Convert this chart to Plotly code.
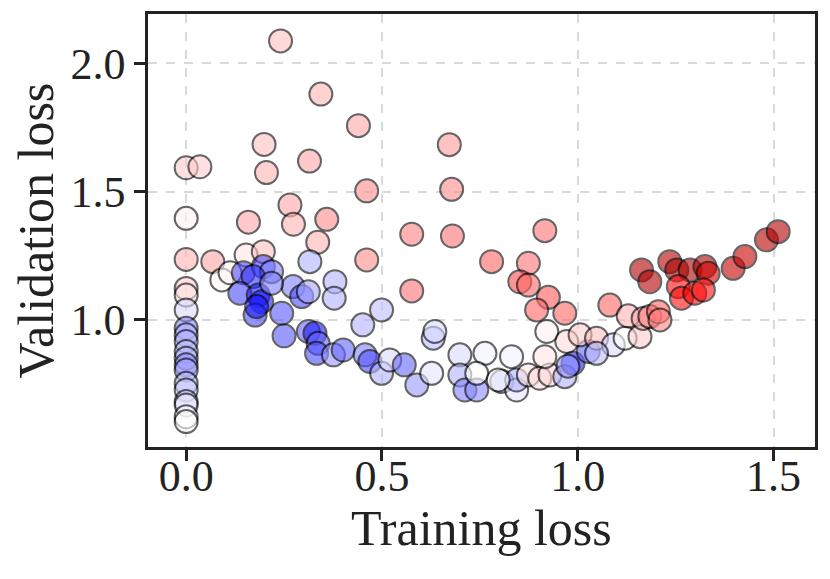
import plotly.graph_objects as go

# Training loss (x), validation loss (y), colour value (blue<0<red)
train_loss = [
    0.0, 0.0, 0.0, 0.0, 0.0, 0.0, 0.0, 0.0, 0.0, 0.0,
    0.0, 0.0, 0.0, 0.0, 0.0, 0.0, 0.0, 0.0, 0.0,
    0.241, 0.344, 0.440, 0.672, 0.199, 0.315, 0.035, 0.205, 0.461, 0.678,
    0.265, 0.159, 0.274, 0.359, 0.336, 0.576, 0.680, 0.068, 0.153, 0.197,
    0.461, 0.576, 0.916, 0.780, 0.874, 0.852, 0.874, 0.925, 0.895, 0.967,
    0.316, 0.091, 0.112, 0.146, 0.197, 0.218, 0.171, 0.137, 0.184, 0.193,
    0.176, 0.244, 0.273, 0.295, 0.312, 0.380, 0.378, 0.499, 0.451, 0.250,
    0.312, 0.329, 0.337, 0.333, 0.376, 0.401, 0.457, 0.469, 0.499, 0.520,
    0.557, 0.589, 0.627, 0.631, 0.635, 0.699, 0.699, 0.712, 0.742, 0.180,
    0.218,
    0.763, 0.831, 0.742, 0.806, 0.844, 0.844, 0.797, 0.874, 0.903, 0.929,
    0.967, 0.988, 1.027, 0.916, 0.921, 0.972, 1.006, 1.048, 1.091, 1.121,
    1.159, 1.048, 0.975,
    1.082, 1.129, 1.167, 1.184, 1.206, 1.210, 1.163, 1.184, 1.235, 1.253,
    1.287, 1.325, 1.333, 1.257, 1.265, 1.299, 1.321, 1.397, 1.427, 1.482,
    1.512,
]
val_loss = [
    1.593, 1.396, 1.236, 1.123, 1.097, 1.039, 0.968, 0.942, 0.916, 0.877,
    0.851, 0.825, 0.805, 0.753, 0.727, 0.682, 0.669, 0.623, 0.604,
    2.087, 1.880, 1.757, 1.683, 1.684, 1.619, 1.597, 1.574, 1.503, 1.509,
    1.448, 1.381, 1.373, 1.392, 1.303, 1.334, 1.327, 1.227, 1.253, 1.266,
    1.234, 1.113, 1.348, 1.227, 1.221, 1.149, 1.136, 1.088, 1.039, 1.026,
    1.227, 1.156, 1.184, 1.184, 1.208, 1.188, 1.169, 1.104, 1.097, 1.071,
    1.019, 1.026, 1.130, 1.091, 1.110, 1.149, 1.085, 1.039, 0.981, 0.938,
    0.955, 0.948, 0.909, 0.870, 0.864, 0.883, 0.864, 0.838, 0.792, 0.844,
    0.825, 0.747, 0.792, 0.929, 0.955, 0.864, 0.786, 0.727, 0.727, 1.052,
    1.143,
    0.870, 0.857, 0.792, 0.760, 0.727, 0.766, 0.766, 0.786, 0.773, 0.786,
    0.779, 0.831, 0.877, 0.857, 0.955, 0.916, 0.942, 0.929, 0.903, 0.929,
    0.935, 0.870, 0.820,
    1.058, 1.016, 1.006, 1.013, 1.032, 1.000, 1.195, 1.149, 1.227, 1.195,
    1.195, 1.208, 1.182, 1.130, 1.085, 1.104, 1.117, 1.201, 1.247, 1.312,
    1.344,
]
colour_value = [
    0.2, 0.05, 0.3, 0.2, 0.1, -0.15, -0.45, -0.3, -0.3, -0.25,
    -0.3, -0.45, -0.35, -0.25, -0.2, -0.15, -0.1, -0.02, 0.0,
    0.25, 0.3, 0.35, 0.4, 0.25, 0.35, 0.2, 0.3, 0.45, 0.45,
    0.35, 0.35, 0.3, 0.45, 0.3, 0.5, 0.55, 0.35, 0.1, 0.25,
    0.45, 0.55, 0.55, 0.6, 0.55, 0.7, 0.6, 0.65, 0.6, 0.6,
    -0.3, 0.03, 0.05, -0.7, -0.7, -0.5, -0.8, -0.7, -0.9, -0.9,
    -0.7, -0.65, -0.5, -0.7, -0.35, -0.3, -0.3, -0.25, -0.3, -0.65,
    -0.6, -0.9, -0.6, -0.7, -0.4, -0.6, -0.5, -0.7, -0.3, -0.15,
    -0.6, -0.4, -0.1, -0.25, -0.15, -0.15, -0.3, -0.5, -0.45, -0.9,
    -0.5,
    -0.05, -0.05, 0.0, -0.35, -0.1, -0.3, 0.0, 0.1, 0.15, 0.15,
    -0.3, -0.85, -0.6, 0.1, 0.05, 0.15, 0.2, 0.25, -0.15, 0.0,
    0.2, -0.25, -0.4,
    0.6, 0.3, 0.35, 0.5, 0.6, 0.5, 1.6, 1.6, 1.55, 1.65,
    1.65, 1.6, 1.35, 0.95, 0.95, 1.0, 0.95, 1.45, 1.45, 1.55,
    1.6,
]

x_ticks = [0.0, 0.5, 1.0, 1.5]
y_ticks = [1.0, 1.5, 2.0]

seismic = [
    [0.0, "rgb(0,0,77)"],
    [0.25, "rgb(0,0,255)"],
    [0.5, "rgb(255,255,255)"],
    [0.75, "rgb(255,0,0)"],
    [1.0, "rgb(128,0,0)"],
]

FONT = "Liberation Serif"
INK = "#222222"

fig = go.Figure(
    go.Scatter(
        x=train_loss,
        y=val_loss,
        mode="markers",
        marker=dict(
            size=23,
            color=colour_value,
            colorscale=seismic,
            cmin=-2,
            cmax=2,
            opacity=0.6,
            line=dict(color="black", width=2),
        ),
        hoverinfo="x+y",
    )
)

axis_common = dict(
    showline=True,
    linecolor=INK,
    linewidth=2.5,
    mirror=True,
    ticks="outside",
    ticklen=11,
    tickwidth=2.5,
    tickcolor=INK,
    showgrid=True,
    gridcolor="#d9d9d9",
    gridwidth=1.5,
    griddash="dash",
    zeroline=False,
    automargin=False,
    tickfont=dict(family=FONT, size=44, color=INK),
)

# The page body has an 8 px default margin, so the figure is sized to fit.
fig.update_layout(
    width=822,
    height=571,
    margin=dict(l=140, r=15, t=6, b=132),
    plot_bgcolor="white",
    paper_bgcolor="white",
    showlegend=False,
    xaxis=dict(
        axis_common,
        range=[-0.0975, 1.606],
        tickvals=x_ticks,
        ticktext=[f"{v:.1f}" for v in x_ticks],
        ticklabelstandoff=-23,
    ),
    yaxis=dict(
        axis_common,
        range=[0.505, 2.192],
        tickvals=y_ticks,
        ticktext=[f"{v:.1f}" for v in y_ticks],
    ),
    annotations=[
        dict(
            text="Training loss",
            xref="paper", yref="paper", x=0.5, y=0,
            xanchor="center", yanchor="middle", yshift=-81,
            showarrow=False,
            font=dict(family=FONT, size=50, color=INK),
        ),
        dict(
            text="Validation loss",
            xref="paper", yref="paper", x=0, y=0.5,
            xanchor="center", yanchor="middle", xshift=-113,
            textangle=-90,
            showarrow=False,
            font=dict(family=FONT, size=50, color=INK),
        ),
    ],
)

fig.write_html("out.html")
